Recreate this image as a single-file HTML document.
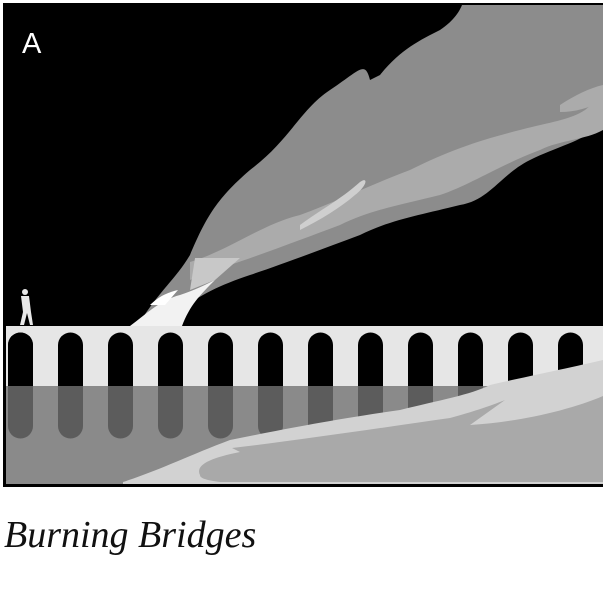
<!DOCTYPE html>
<html><head><style>
html,body{margin:0;padding:0;background:#fff;width:606px;height:592px;overflow:hidden}
</style></head><body>
<svg width="606" height="592" viewBox="0 0 606 592" xmlns="http://www.w3.org/2000/svg">
<rect x="3" y="3" width="600" height="484" fill="#000"/>
<!-- smoke main -->
<path d="M140,322 C160,290 175,280 190,255 C205,220 215,200 250,170 C290,140 300,110 330,90 C360,70 365,60 370,80 L380,75 C400,50 420,40 440,30 C455,20 460,10 462,5 L603,5 L603,120 C590,140 560,145 530,160 C500,175 490,200 460,205 C420,215 390,220 360,235 C320,250 280,265 250,275 C220,285 200,295 180,310 L160,326 Z" fill="#8c8c8c"/>
<!-- lighter layers -->
<path d="M190,262 C230,250 260,225 300,215 C340,200 370,185 410,170 C450,150 480,140 520,130 C550,122 570,120 585,110 L603,95 L603,130 C585,140 560,140 540,150 C500,165 470,185 440,195 C400,205 370,210 340,225 C300,240 260,255 230,265 C210,270 200,275 190,280 Z" fill="#ababab"/>
<path d="M560,105 C575,95 590,88 603,85 L603,100 C590,108 575,112 560,112 Z" fill="#ababab"/>
<path d="M195,258 L240,258 L215,280 L190,290 Z" fill="#c8c8c8"/>
<path d="M300,225 C320,210 340,200 360,182 C368,176 368,185 355,195 C340,208 320,220 300,230 Z" fill="#cfcfcf"/>
<!-- flame -->
<path d="M130,326 C145,315 160,300 180,295 C195,290 205,285 215,280 C200,295 190,305 182,326 Z" fill="#f2f2f2"/>
<path d="M150,305 C160,295 170,292 178,290 L165,305 Z" fill="#ffffff"/>
<!-- person -->
<g fill="#e8e8e8">
<circle cx="25" cy="292" r="3"/>
<path d="M21,296 L29,296 L31,312 L33,325 L30,325 L27,313 L24,325 L20,325 L23,312 Z"/>
</g>
<!-- water -->
<rect x="6" y="386" width="597" height="98" fill="#8a8a8a"/>
<!-- deck -->
<rect x="6" y="326" width="597" height="60" fill="#e6e6e6"/>
<g id="arches">
<path id="a" d="M8,386 L8,345 A12.5,12.5 0 0 1 33,345 L33,386 Z" fill="#000"/>
</g>
<g>
<path d="M8,386 L8,345 A12.5,12.5 0 0 1 33,345 L33,386 Z" fill="#000"/>
<path d="M58,386 L58,345 A12.5,12.5 0 0 1 83,345 L83,386 Z" fill="#000"/>
<path d="M108,386 L108,345 A12.5,12.5 0 0 1 133,345 L133,386 Z" fill="#000"/>
<path d="M158,386 L158,345 A12.5,12.5 0 0 1 183,345 L183,386 Z" fill="#000"/>
<path d="M208,386 L208,345 A12.5,12.5 0 0 1 233,345 L233,386 Z" fill="#000"/>
<path d="M258,386 L258,345 A12.5,12.5 0 0 1 283,345 L283,386 Z" fill="#000"/>
<path d="M308,386 L308,345 A12.5,12.5 0 0 1 333,345 L333,386 Z" fill="#000"/>
<path d="M358,386 L358,345 A12.5,12.5 0 0 1 383,345 L383,386 Z" fill="#000"/>
<path d="M408,386 L408,345 A12.5,12.5 0 0 1 433,345 L433,386 Z" fill="#000"/>
<path d="M458,386 L458,345 A12.5,12.5 0 0 1 483,345 L483,386 Z" fill="#000"/>
<path d="M508,386 L508,345 A12.5,12.5 0 0 1 533,345 L533,386 Z" fill="#000"/>
<path d="M558,386 L558,345 A12.5,12.5 0 0 1 583,345 L583,386 Z" fill="#000"/>
</g>
<!-- reflections -->
<g fill="#5c5c5c">
<path d="M8,386 L8,426 A12.5,12.5 0 0 0 33,426 L33,386 Z"/>
<path d="M58,386 L58,426 A12.5,12.5 0 0 0 83,426 L83,386 Z"/>
<path d="M108,386 L108,426 A12.5,12.5 0 0 0 133,426 L133,386 Z"/>
<path d="M158,386 L158,426 A12.5,12.5 0 0 0 183,426 L183,386 Z"/>
<path d="M208,386 L208,426 A12.5,12.5 0 0 0 233,426 L233,386 Z"/>
<path d="M258,386 L258,426 A12.5,12.5 0 0 0 283,426 L283,386 Z"/>
<path d="M308,386 L308,426 A12.5,12.5 0 0 0 333,426 L333,386 Z"/>
<path d="M358,386 L358,426 A12.5,12.5 0 0 0 383,426 L383,386 Z"/>
<path d="M408,386 L408,426 A12.5,12.5 0 0 0 433,426 L433,386 Z"/>
<path d="M458,386 L458,426 A12.5,12.5 0 0 0 483,426 L483,386 Z"/>
</g>
<!-- bank -->
<path d="M123,482 C160,470 190,455 230,440 C280,430 330,420 400,410 C440,400 470,395 490,385 C520,378 560,370 603,360 L603,484 L123,484 Z" fill="#d2d2d2"/>
<path d="M200,475 C195,465 210,458 240,452 L232,448 C300,440 380,428 450,418 C480,410 500,402 505,400 L470,425 C520,422 570,410 603,396 L603,482 L220,482 C205,480 200,478 200,475 Z" fill="#a9a9a9"/>
<text x="22" y="53" font-family="'Liberation Sans',sans-serif" font-size="29" fill="#fff">A</text>
<text x="4" y="547" font-family="'Liberation Serif',serif" font-style="italic" font-size="38" fill="#111">Burning Bridges</text>
</svg>
</body></html>
